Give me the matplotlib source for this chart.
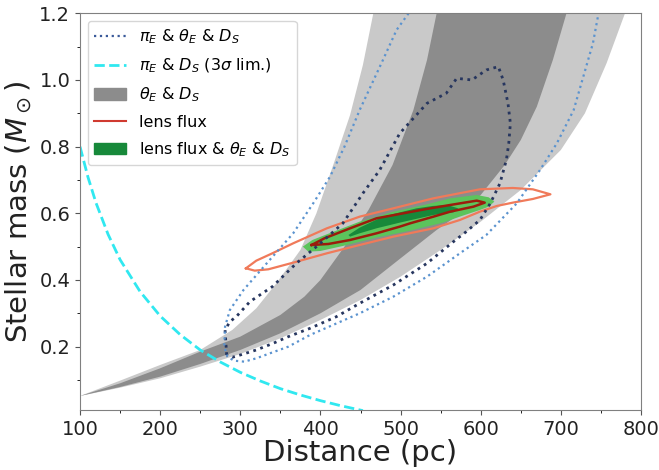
import matplotlib
matplotlib.use("Agg")
import matplotlib.pyplot as plt
from matplotlib.lines import Line2D
from matplotlib.patches import Patch
from matplotlib.ticker import MultipleLocator

# theta_E & D_S band, 2 sigma (light) and 1 sigma (dark) edges
light_up_D = [100, 150, 200, 250, 290, 320, 345, 375, 395, 416, 437, 453, 466]
light_up_M = [0.052, 0.098, 0.145, 0.19, 0.25, 0.315, 0.39, 0.49, 0.600, 0.745, 0.895, 1.045, 1.2]
light_lo_D = [100, 150, 200, 250, 300, 350, 400, 450, 500, 550, 600, 650, 700, 730, 757, 780]
light_lo_M = [0.052, 0.077, 0.105, 0.140, 0.178, 0.225, 0.28, 0.34, 0.41, 0.49, 0.575, 0.67, 0.79, 0.90, 1.05, 1.2]

dark_up_D = [100, 150, 200, 250, 300, 350, 380, 400, 430, 460, 490, 516, 533, 545]
dark_up_M = [0.052, 0.090, 0.135, 0.185, 0.23, 0.295, 0.35, 0.40, 0.50, 0.61, 0.745, 0.91, 1.06, 1.2]
dark_lo_D = [100, 150, 200, 250, 300, 350, 400, 450, 500, 545, 575, 600, 630, 650, 670, 690, 707]
dark_lo_M = [0.052, 0.079, 0.11, 0.148, 0.19, 0.24, 0.30, 0.37, 0.465, 0.55, 0.60, 0.655, 0.745, 0.82, 0.92, 1.06, 1.2]

# pi_E & theta_E & D_S contours
pe1_D = [283, 281, 287, 295, 312, 340, 370, 395, 428, 453, 474, 499, 533, 557, 570, 589, 607, 622,
         628, 634, 637, 635, 632, 624, 612, 599, 582, 566, 533, 491, 449, 420, 387, 360, 341, 320, 300, 290, 283]
pe1_M = [0.175, 0.25, 0.275, 0.29, 0.335, 0.38, 0.45, 0.50, 0.57, 0.66, 0.73, 0.84, 0.93, 0.96, 1.005, 1.0, 1.03, 1.04,
         1.0, 0.93, 0.87, 0.81, 0.76, 0.69, 0.63, 0.58, 0.545, 0.515, 0.45, 0.385, 0.33, 0.29, 0.255, 0.23, 0.21, 0.19, 0.175, 0.168, 0.175]

pe2_D = [510, 495, 478, 449, 430, 412, 391, 366, 333, 304, 287, 281, 280, 284, 292, 305, 320, 337, 360, 387,
         449, 491, 533, 574, 607, 645, 674, 695, 716, 728, 740, 747]
pe2_M = [1.2, 1.15, 1.06, 0.91, 0.80, 0.71, 0.63, 0.54, 0.45, 0.37, 0.31, 0.26, 0.20, 0.17, 0.158, 0.155, 0.165, 0.18, 0.2, 0.235,
         0.30, 0.35, 0.41, 0.48, 0.535, 0.63, 0.73, 0.81, 0.91, 1.01, 1.11, 1.2]

# pi_E & D_S 3 sigma limit
lim_D = [100, 110, 120, 135, 150, 175, 200, 225, 250, 275, 300, 325, 350, 375, 400, 425, 453]
lim_M = [0.80, 0.708, 0.631, 0.537, 0.461, 0.365, 0.292, 0.236, 0.190, 0.154, 0.123, 0.097, 0.074, 0.055, 0.038, 0.023, 0.008]

# lens flux contours
flux2_D = [307, 320, 340, 366, 408, 449, 491, 541, 599, 640, 665, 687,
           665, 640, 620, 599, 574, 541, 491, 449, 408, 366, 335, 318, 307]
flux2_M = [0.435, 0.458, 0.48, 0.51, 0.555, 0.59, 0.615, 0.645, 0.672, 0.676, 0.672, 0.657,
           0.643, 0.632, 0.622, 0.605, 0.58, 0.555, 0.53, 0.505, 0.48, 0.452, 0.432, 0.428, 0.435]
flux1_D = [389, 405, 437, 470, 499, 530, 562, 595, 605, 591, 562, 541, 512, 499, 470, 437, 410, 389]
flux1_M = [0.505, 0.525, 0.555, 0.585, 0.598, 0.612, 0.625, 0.638, 0.632, 0.62, 0.605, 0.59, 0.57, 0.56, 0.54, 0.52, 0.508, 0.505]

# lens flux & theta_E & D_S
comb2_D = [378, 390, 408, 449, 491, 533, 562, 595, 610, 617, 610, 599, 574, 553, 512, 470, 428, 400, 385, 378]
comb2_M = [0.50, 0.52, 0.537, 0.575, 0.605, 0.627, 0.645, 0.655, 0.648, 0.635, 0.62, 0.61, 0.59, 0.572, 0.548, 0.527, 0.502, 0.487, 0.485, 0.50]
comb1_D = [435, 449, 478, 491, 520, 540, 558, 572, 566, 541, 499, 470, 449, 437, 435]
comb1_M = [0.535, 0.557, 0.59, 0.598, 0.615, 0.622, 0.625, 0.615, 0.603, 0.595, 0.572, 0.555, 0.54, 0.53, 0.535]

legend_labels = [r'$\pi_E$ & $\theta_E$ & $D_S$', r'$\pi_E$ & $D_S$ (3$\sigma$ lim.)',
                 r'$\theta_E$ & $D_S$', 'lens flux', r'lens flux & $\theta_E$ & $D_S$']

fig = plt.figure(figsize=(6.59, 4.70), dpi=100)
ax = fig.add_axes([0.1214, 0.1277, 0.8513, 0.844])

ax.fill(light_up_D + light_lo_D[::-1], light_up_M + light_lo_M[::-1], color='#c9c9c9', lw=0)
ax.fill(dark_up_D + dark_lo_D[::-1], dark_up_M + dark_lo_M[::-1], color='#8c8c8c', lw=0)
ax.fill(comb2_D, comb2_M, color='#5cc45c', lw=0)
ax.fill(comb1_D, comb1_M, color='#17893a', lw=0)
ax.plot(flux2_D, flux2_M, color='#f07a5a', lw=1.6)
ax.plot(flux1_D, flux1_M, color='#9b1c0c', lw=1.8)
ax.plot(pe1_D, pe1_M, color='#27365f', ls=':', lw=2)
ax.plot(pe2_D, pe2_M, color='#5b93cf', ls=':', lw=1.6)
ax.plot(lim_D, lim_M, color='#30e8f0', ls='--', lw=2)

ax.set_xlim(100, 800)
ax.set_ylim(0.01, 1.2)
ax.set_yticks([0.2, 0.4, 0.6, 0.8, 1.0, 1.2])
ax.xaxis.set_minor_locator(MultipleLocator(50))
ax.yaxis.set_minor_locator(MultipleLocator(0.1))
ax.tick_params(labelsize=14, colors='#555555', labelcolor='#222222')
for s in ax.spines.values():
    s.set_color('#808080')

ax.set_xlabel('Distance (pc)', fontsize=21, color='#222222', labelpad=0)
ax.set_ylabel(r'Stellar mass ($M_\odot$)', fontsize=21, color='#222222', labelpad=4)

handles = [Line2D([], [], color='#3a5a9a', ls=':', lw=1.6),
           Line2D([], [], color='#30e8f0', ls='--', lw=2),
           Patch(color='#8c8c8c'),
           Line2D([], [], color='#d03a30', lw=1.5),
           Patch(color='#17893a')]
ax.legend(handles, legend_labels, loc='upper left', fontsize=11.5, labelspacing=0.65)

fig.savefig('out.png', dpi=100)
